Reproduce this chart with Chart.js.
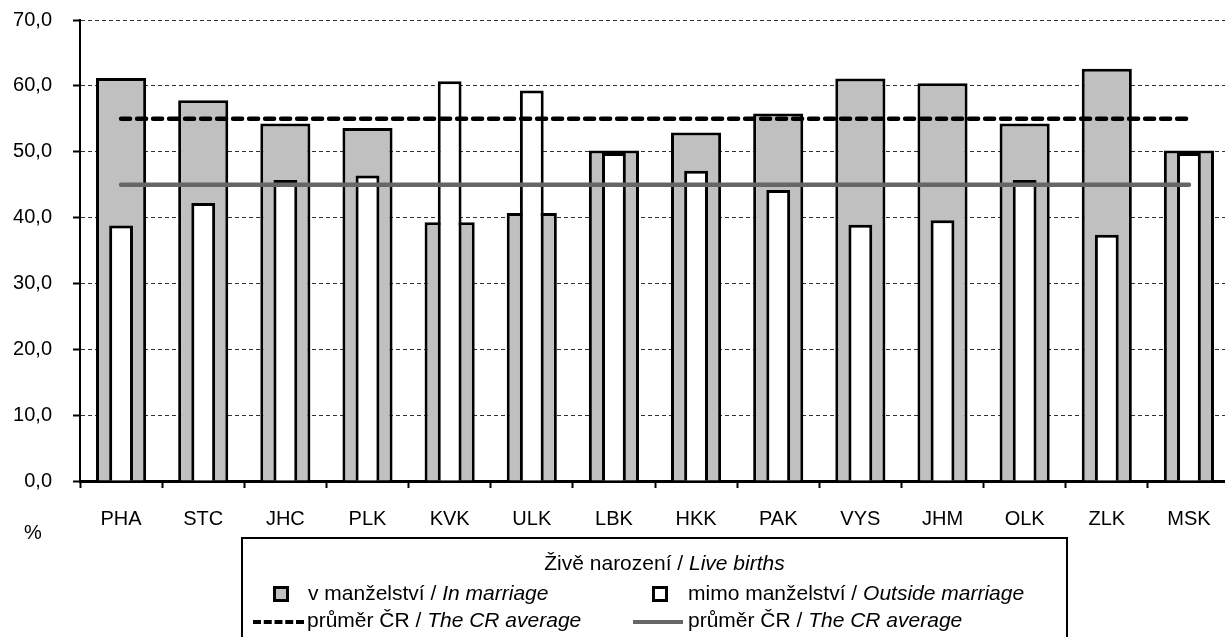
<!DOCTYPE html>
<html>
<head>
<meta charset="utf-8">
<script src="https://cdn.jsdelivr.net/npm/chart.js@4/dist/chart.umd.min.js"></script>
<style>
  html, body { margin: 0; padding: 0; background: #fff; overflow: hidden; }
  #wrap { position: relative; width: 1231px; height: 637px; }
  #legend {
    position: absolute; left: 241px; top: 537px; width: 827px; height: 120px;
    border: 2px solid #000; box-sizing: border-box;
    font-family: "Liberation Sans", Arial, sans-serif; font-size: 21px; color: #000;
  }
  #legend .title { position: absolute; top: 12px; left: 0; width: 100%; text-align: center; padding-left: 20px; box-sizing: border-box; }
  #legend .item { position: absolute; white-space: nowrap; }
  #legend .sym { position: absolute; }
</style>
</head>
<body>
<div id="wrap">
  <canvas id="births" width="1231" height="637"></canvas>
  <div id="legend"></div>
</div>
<script>
// kraje
const regions = ['PHA', 'STC', 'JHC', 'PLK', 'KVK', 'ULK', 'LBK', 'HKK', 'PAK', 'VYS', 'JHM', 'OLK', 'ZLK', 'MSK'];

// podíl živě narozených v %
const inMarriage      = [61.2, 57.8, 54.3, 53.6, 39.3, 40.7, 50.2, 52.9, 55.8, 61.1, 60.4, 54.3, 62.6, 50.2];
const outsideMarriage = [38.8, 42.2, 45.7, 46.4, 60.7, 59.3, 49.8, 47.1, 44.2, 38.9, 39.6, 45.7, 37.4, 49.8];

// průměr ČR
const avgInMarriage      = [55.0, 55.0, 55.0, 55.0, 55.0, 55.0, 55.0, 55.0, 55.0, 55.0, 55.0, 55.0, 55.0, 55.0];
const avgOutsideMarriage = [45.0, 45.0, 45.0, 45.0, 45.0, 45.0, 45.0, 45.0, 45.0, 45.0, 45.0, 45.0, 45.0, 45.0];

const yTicks = [0, 10, 20, 30, 40, 50, 60, 70];

const legendTitle = ['Živě narození / ', 'Live births'];
const labelsCz = ['v manželství / ', 'mimo manželství / ', 'průměr ČR / ', 'průměr ČR / '];
const labelsEn = ['In marriage', 'Outside marriage', 'The CR average', 'The CR average'];

const FONT = '"Liberation Sans", Arial, sans-serif';

// popisek osy "%" pod osou Y
const percentLabel = {
    id: 'percentLabel',
    afterDraw(chart) {
        const c = chart.ctx;
        c.save();
        c.font = '20px ' + FONT;
        c.fillStyle = '#000';
        c.textAlign = 'center';
        c.textBaseline = 'middle';
        c.fillText('%', 33, 533);
        c.restore();
    }
};

const ctx = document.getElementById('births').getContext('2d');

new Chart(ctx, {
    type: 'bar',
    data: {
        labels: regions,
        datasets: [
            {
                type: 'line',
                label: labelsCz[2] + labelsEn[2],
                data: avgInMarriage,
                borderColor: '#000',
                borderWidth: 4.5,
                borderDash: [9, 7],
                borderCapStyle: 'round',
                pointRadius: 0,
                fill: false,
                order: 0
            },
            {
                type: 'line',
                label: labelsCz[3] + labelsEn[3],
                data: avgOutsideMarriage,
                borderColor: '#666666',
                borderWidth: 4.5,
                borderCapStyle: 'round',
                pointRadius: 0,
                fill: false,
                order: 0
            },
            {
                label: labelsCz[1] + labelsEn[1],
                data: outsideMarriage,
                backgroundColor: '#ffffff',
                borderColor: '#000',
                borderWidth: 3,
                grouped: false,
                categoryPercentage: 1,
                barPercentage: 0.29,
                order: 1
            },
            {
                label: labelsCz[0] + labelsEn[0],
                data: inMarriage,
                backgroundColor: '#c0c0c0',
                borderColor: '#000',
                borderWidth: 3,
                grouped: false,
                categoryPercentage: 1,
                barPercentage: 0.61,
                order: 2
            }
        ]
    },
    options: {
        responsive: false,
        animation: false,
        layout: { padding: { top: 20, right: 1, left: 0, bottom: 0 } },
        plugins: {
            legend: { display: false },
            tooltip: { enabled: false }
        },
        scales: {
            x: {
                offset: true,
                border: { display: true, color: '#000', width: 3 },
                grid: {
                    offset: true,
                    drawOnChartArea: false,
                    drawTicks: true,
                    tickLength: 7,
                    tickColor: '#000',
                    tickWidth: 2
                },
                ticks: {
                    color: '#000',
                    font: { family: FONT, size: 20 },
                    padding: 19,
                    maxRotation: 0,
                    autoSkip: false
                },
                afterFit: (scale) => { scale.height = 156; }
            },
            y: {
                min: 0,
                max: 70,
                afterBuildTicks: (scale) => { scale.ticks = yTicks.map(v => ({ value: v })); },
                border: { display: true, color: '#000', width: 2, dash: [4, 3] },
                grid: {
                    color: '#333',
                    lineWidth: 1,
                    tickLength: 7,
                    tickColor: '#000',
                    tickWidth: 2,
                    tickBorderDash: []
                },
                ticks: {
                    color: '#000',
                    font: { family: FONT, size: 20 },
                    padding: 21,
                    callback: (v) => v.toFixed(1).replace('.', ',')
                },
                afterFit: (scale) => {
                    scale.width = 80;
                    scale.paddingTop = 0;
                    scale.paddingBottom = 0;
                }
            }
        }
    },
    plugins: [percentLabel]
});

// legenda (HTML)
const lg = document.getElementById('legend');
lg.innerHTML =
    '<div class="title">' + legendTitle[0] + '<i>' + legendTitle[1] + '</i></div>' +
    // v manželství
    '<div class="sym" style="left:30px;top:47px;width:16px;height:16px;box-sizing:border-box;border:3px solid #000;background:#c0c0c0"></div>' +
    '<div class="item" style="left:65px;top:42px">' + labelsCz[0] + '<i>' + labelsEn[0] + '</i></div>' +
    // mimo manželství
    '<div class="sym" style="left:409px;top:47px;width:16px;height:16px;box-sizing:border-box;border:3px solid #000;background:#fff"></div>' +
    '<div class="item" style="left:445px;top:42px">' + labelsCz[1] + '<i>' + labelsEn[1] + '</i></div>' +
    // průměr ČR - čárkovaná
    '<div class="sym" style="left:10px;top:81px;width:51px;height:0;border-top:4px dashed #000"></div>' +
    '<div class="item" style="left:64px;top:69px">' + labelsCz[2] + '<i>' + labelsEn[2] + '</i></div>' +
    // průměr ČR - šedá
    '<div class="sym" style="left:390px;top:81px;width:50px;height:4px;background:#666"></div>' +
    '<div class="item" style="left:445px;top:69px">' + labelsCz[3] + '<i>' + labelsEn[3] + '</i></div>';
</script>
</body>
</html>
